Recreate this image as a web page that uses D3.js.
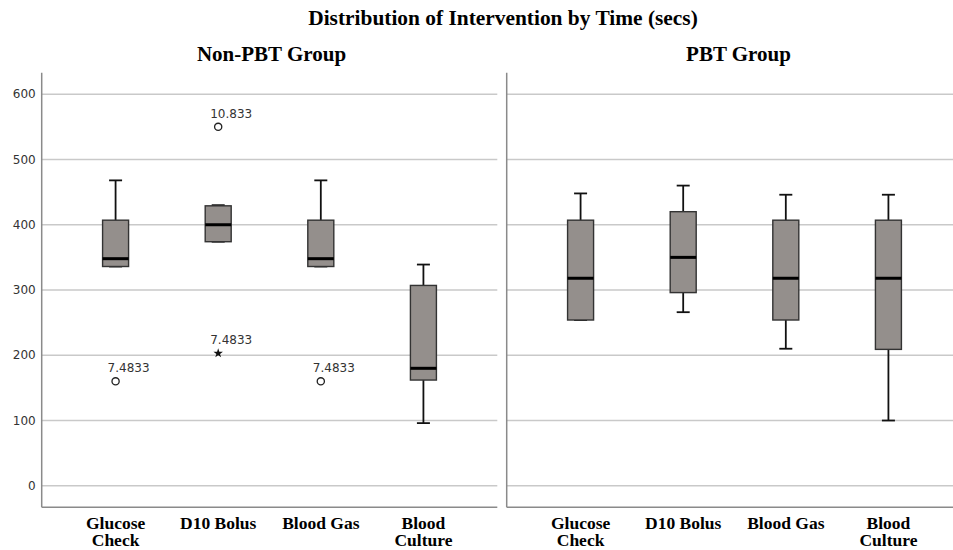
<!DOCTYPE html>
<html><head><meta charset="utf-8">
<script src="https://cdn.jsdelivr.net/npm/d3@7"></script>
<style>body{margin:0;background:#fff}svg{display:block}</style>
</head><body>
<script>
const title = "Distribution of Intervention by Time (secs)";
const groups = ["Non-PBT Group", "PBT Group"];
const categories = ["Glucose Check", "D10 Bolus", "Blood Gas", "Blood Culture"];
const categoryLines = [["Glucose", "Check"], ["D10 Bolus"], ["Blood Gas"], ["Blood", "Culture"]];
const yTicks = [0, 100, 200, 300, 400, 500, 600];

// Non-PBT group box statistics
const nonPbtMin    = [336, 374, 336, 96];
const nonPbtQ1     = [336, 374, 336, 162];
const nonPbtMedian = [348, 400, 348, 180];
const nonPbtQ3     = [407, 429, 407, 307];
const nonPbtMax    = [468, 430, 468, 339];
// PBT group box statistics
const pbtMin    = [254, 266, 210, 100];
const pbtQ1     = [254, 296, 254, 209];
const pbtMedian = [318, 350, 318, 318];
const pbtQ3     = [407, 420, 407, 407];
const pbtMax    = [448, 460, 446, 446];

// Outliers (Non-PBT group): category index, value, label, kind
const outlierCat   = [0, 1, 1, 2];
const outlierValue = [160, 550, 203, 160];
const outlierLabel = ["7.4833", "10.833", "7.4833", "7.4833"];
const outlierKind  = ["circle", "circle", "star", "circle"];

const W = 953, H = 550;
const svg = d3.select("body").append("svg").attr("width", W).attr("height", H);

const panelX = [41.7, 506.7];
const panelW = 455.6;
const y = d3.scaleLinear().domain([-33, 633]).range([507.3, 72.7]);
const x = d3.scalePoint().domain(categories).range([0, panelW]).padding(0.72);

const serif = "'Liberation Serif', 'Times New Roman', serif";
const sans = "'DejaVu Sans', sans-serif";

svg.append("text").attr("x", 503).attr("y", 25).attr("text-anchor", "middle")
  .attr("font-family", serif).attr("font-weight", "bold").attr("font-size", 21.4)
  .text(title);

const stats = [
  {min: nonPbtMin, q1: nonPbtQ1, med: nonPbtMedian, q3: nonPbtQ3, max: nonPbtMax},
  {min: pbtMin, q1: pbtQ1, med: pbtMedian, q3: pbtQ3, max: pbtMax}
];

const boxW = 26, capW = 13;

groups.forEach((g, gi) => {
  const p = svg.append("g").attr("transform", `translate(${panelX[gi]},0)`);
  // group title
  p.append("text").attr("x", panelW / 2 + (gi === 0 ? 2 : 4)).attr("y", 61).attr("text-anchor", "middle")
    .attr("font-family", serif).attr("font-weight", "bold").attr("font-size", 21).text(g);
  // gridlines
  p.selectAll("line.grid").data(yTicks).join("line").attr("class", "grid")
    .attr("x1", 0).attr("x2", panelW).attr("y1", d => y(d)).attr("y2", d => y(d))
    .attr("stroke", "#c9c9c9").attr("stroke-width", 1.3);
  // axis frame
  p.append("line").attr("x1", 0).attr("x2", 0).attr("y1", y(633)).attr("y2", y(-33))
    .attr("stroke", "#8a8a8a").attr("stroke-width", 1.5);
  p.append("line").attr("x1", 0).attr("x2", panelW).attr("y1", y(-33)).attr("y2", y(-33))
    .attr("stroke", "#8a8a8a").attr("stroke-width", 1.5);
  // y tick labels (left panel only)
  if (gi === 0) {
    p.selectAll("text.tick").data(yTicks).join("text").attr("class", "tick")
      .attr("x", -6).attr("y", d => y(d)).attr("dy", "0.35em").attr("text-anchor", "end")
      .attr("font-family", sans).attr("font-size", 12).attr("fill", "#333").text(d => d);
  }
  // category labels
  categories.forEach((c, ci) => {
    const t = p.append("text").attr("x", x(c)).attr("y", 529).attr("text-anchor", "middle")
      .attr("font-family", serif).attr("font-weight", "bold").attr("font-size", 17.5);
    categoryLines[ci].forEach((ln, li) => {
      t.append("tspan").attr("x", x(c)).attr("dy", li === 0 ? 0 : 17).text(ln);
    });
  });
  // boxes
  const s = stats[gi];
  categories.forEach((c, ci) => {
    const cx = x(c);
    const bg = p.append("g");
    bg.append("line").attr("x1", cx).attr("x2", cx).attr("y1", y(s.q3[ci])).attr("y2", y(s.max[ci]))
      .attr("stroke", "#111").attr("stroke-width", 1.8);
    bg.append("line").attr("x1", cx).attr("x2", cx).attr("y1", y(s.q1[ci])).attr("y2", y(s.min[ci]))
      .attr("stroke", "#111").attr("stroke-width", 1.8);
    bg.append("line").attr("x1", cx - capW / 2).attr("x2", cx + capW / 2).attr("y1", y(s.max[ci])).attr("y2", y(s.max[ci]))
      .attr("stroke", "#111").attr("stroke-width", 1.8);
    bg.append("line").attr("x1", cx - capW / 2).attr("x2", cx + capW / 2).attr("y1", y(s.min[ci])).attr("y2", y(s.min[ci]))
      .attr("stroke", "#111").attr("stroke-width", 1.8);
    bg.append("rect").attr("x", cx - boxW / 2).attr("width", boxW)
      .attr("y", y(s.q3[ci])).attr("height", y(s.q1[ci]) - y(s.q3[ci]))
      .attr("fill", "#948f8c").attr("stroke", "#333").attr("stroke-width", 1.4);
    bg.append("line").attr("x1", cx - boxW / 2).attr("x2", cx + boxW / 2).attr("y1", y(s.med[ci])).attr("y2", y(s.med[ci]))
      .attr("stroke", "#000").attr("stroke-width", 3);
  });
  // outliers
  if (gi === 0) {
    outlierCat.forEach((ci, oi) => {
      const cx = x(categories[ci]), cy = y(outlierValue[oi]);
      if (outlierKind[oi] === "circle") {
        p.append("circle").attr("cx", cx).attr("cy", cy).attr("r", 3.6)
          .attr("fill", "#fff").attr("stroke", "#222").attr("stroke-width", 1.3);
      } else {
        p.append("path").attr("d", d3.symbol().type(d3.symbolStar).size(28)())
          .attr("transform", `translate(${cx},${cy})`).attr("fill", "#111");
      }
      p.append("text").attr("x", cx - 8).attr("y", cy - 9)
        .attr("font-family", sans).attr("font-size", 12).attr("fill", "#333").text(outlierLabel[oi]);
    });
  }
});
</script>
</body></html>
